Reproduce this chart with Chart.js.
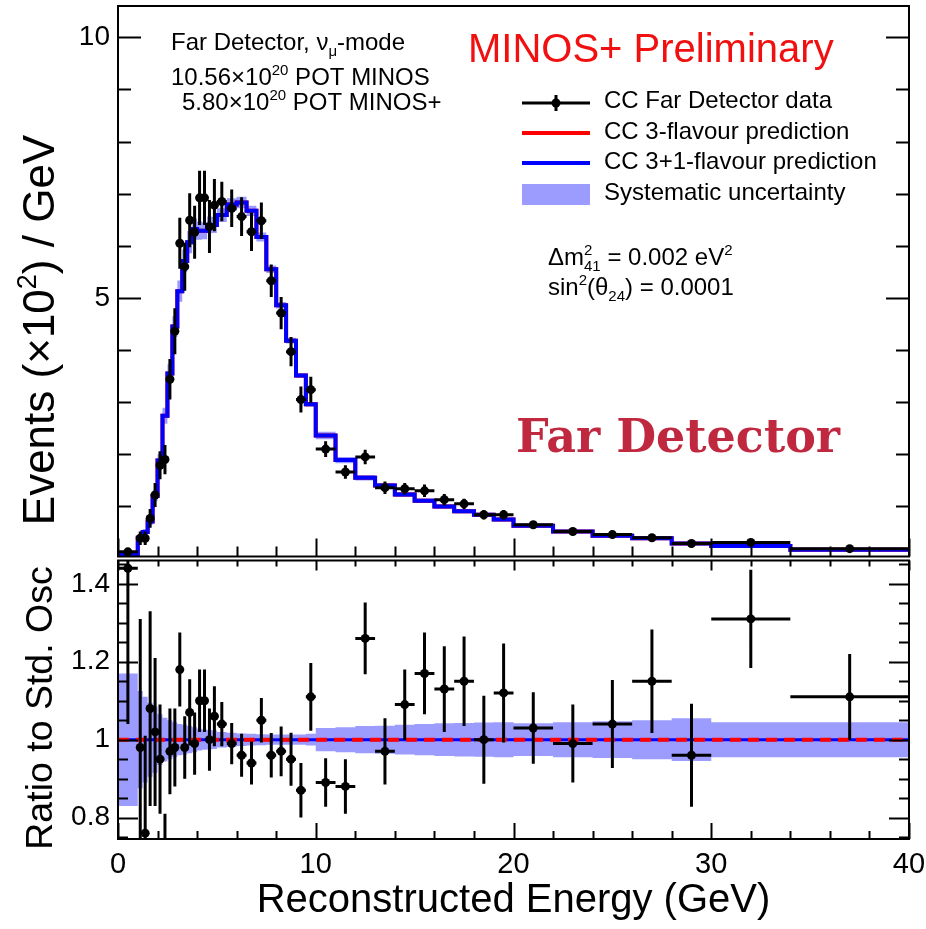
<!DOCTYPE html>
<html><head><meta charset="utf-8">
<script src="https://cdn.jsdelivr.net/npm/chart.js@4.4.1/dist/chart.umd.min.js"></script>
<style>
html,body{margin:0;padding:0;background:#fff;}
#wrap{position:relative;width:926px;height:929px;overflow:hidden;background:#fff;}
#c1{position:absolute;left:0;top:0;}
#c2{position:absolute;left:0;top:556px;}
</style></head><body>
<div id="wrap"><canvas id="c1" width="926" height="561"></canvas><canvas id="c2" width="926" height="373"></canvas></div>
<script>
// ---------------- data ----------------
const binEdges = [0,1,1.25,1.5,1.75,2,2.25,2.5,2.75,3,3.25,3.5,3.75,4,4.25,4.5,4.75,5,
  5.5,6,6.5,7,7.5,8,8.5,9,9.5,10,11,12,13,14,15,16,17,18,19,20,22,24,26,28,30,34,40];
// Events (x10^2) / GeV, far detector data
const dataEvents = [0.13,0.39,0.39,0.77,1.22,1.79,1.90,3.44,4.36,6.05,5.60,6.49,6.26,6.92,6.92,6.37,6.78,
  6.85,6.72,6.56,6.27,6.48,5.33,4.71,3.97,3.05,3.24,
  2.10,1.66,1.95,1.36,1.34,1.30,1.13,1.05,0.84,0.84,
  0.65,0.52,0.46,0.40,0.29,0.31,0.19];
const dataErr = [0.04,0.13,0.13,0.18,0.23,0.27,0.28,0.39,0.44,0.49,0.46,0.52,0.51,0.52,0.52,0.51,0.50,
  0.38,0.36,0.37,0.37,0.35,0.31,0.31,0.28,0.25,0.25,
  0.15,0.13,0.14,0.12,0.11,0.12,0.11,0.10,0.09,0.09,
  0.06,0.05,0.05,0.05,0.04,0.03,0.02];
const pred3Flavour = [0.09,0.40,0.51,0.71,1.20,1.88,2.74,3.55,4.45,5.13,5.71,6.07,6.32,6.29,6.29,6.40,6.40,
  6.59,6.79,6.83,6.67,6.17,5.55,4.86,4.18,3.51,2.96,
  2.36,1.89,1.55,1.40,1.23,1.11,1.00,0.91,0.84,0.75,
  0.63,0.52,0.44,0.39,0.29,0.24,0.17];
const pred31Flavour = [0.09,0.40,0.51,0.71,1.20,1.88,2.74,3.55,4.45,5.13,5.71,6.07,6.32,6.29,6.29,6.40,6.40,
  6.59,6.79,6.83,6.67,6.17,5.55,4.86,4.18,3.51,2.96,
  2.36,1.89,1.55,1.40,1.23,1.11,1.00,0.91,0.84,0.75,
  0.63,0.52,0.44,0.39,0.29,0.24,0.17];
// relative systematic uncertainty
const sysFrac = [0.17,0.125,0.11,0.095,0.085,0.065,0.056,0.05,0.045,0.04,0.038,0.035,0.032,0.028,0.026,0.025,0.024,
  0.02,0.018,0.016,0.015,0.014,0.013,0.013,0.013,0.013,0.015,
  0.03,0.032,0.035,0.036,0.038,0.04,0.042,0.043,0.044,0.045,
  0.042,0.045,0.047,0.05,0.055,0.045,0.045];
// ratio of data to standard oscillation (3-flavour)
const ratioData = [1.44,0.98,0.76,1.08,1.02,0.95,0.69,0.97,0.98,1.18,0.98,1.07,0.99,1.10,1.10,1.00,1.06,
  1.04,0.99,0.96,0.94,1.05,0.96,0.97,0.95,0.87,1.11,
  0.89,0.88,1.26,0.97,1.09,1.17,1.13,1.15,1.00,1.12,
  1.03,0.99,1.04,1.15,0.96,1.31,1.11];
const ratioErr = [0.40,0.33,0.25,0.25,0.19,0.14,0.12,0.11,0.10,0.095,0.08,0.085,0.08,0.08,0.08,0.08,0.077,
  0.057,0.053,0.055,0.055,0.057,0.057,0.064,0.068,0.07,0.087,
  0.062,0.07,0.092,0.085,0.09,0.105,0.11,0.115,0.113,0.127,
  0.092,0.10,0.113,0.133,0.132,0.126,0.11];
const xTickLabels = [0,10,20,30,40];
const yTopTickLabels = [5,10];
const yRatioTickLabels = [0.8,1,1.2,1.4];

// ---------------- helpers ----------------
const FONT = "'Liberation Sans', Arial, Helvetica, sans-serif";
const BAND = '#9c9cff';
function stepPts(vals){const p=[];vals.forEach((v,i)=>{p.push({x:binEdges[i],y:v});p.push({x:binEdges[i+1],y:v});});return p;}
function centersOf(vals){return vals.map((v,i)=>({x:(binEdges[i]+binEdges[i+1])/2,y:v}));}
function vErrPts(vals,errs){const p=[];vals.forEach((v,i)=>{const c=(binEdges[i]+binEdges[i+1])/2;p.push({x:c,y:v-errs[i]});p.push({x:c,y:v+errs[i]});p.push({x:c,y:null});});return p;}
function hErrPts(vals){const p=[];vals.forEach((v,i)=>{p.push({x:binEdges[i],y:v});p.push({x:binEdges[i+1],y:v});p.push({x:binEdges[i+1],y:null});});return p;}
function lineDs(data,color,width,order,extra){return Object.assign({type:'line',data,borderColor:color,borderWidth:width,pointRadius:0,tension:0,spanGaps:false,fill:false,order},extra||{});}

function richWidth(ctx,parts,size){
  let w=0;
  for(const p of parts){
    if(p.stack){ctx.font=Math.round(size*0.62)+'px '+FONT;w+=Math.max(ctx.measureText(p.stack[0]).width,ctx.measureText(p.stack[1]).width);}
    else{ctx.font=(p.s?Math.round(size*0.62):size)+'px '+FONT;w+=ctx.measureText(p.t).width;}
  }
  return w;
}
function drawRich(ctx,x,y,parts,size,color){
  ctx.fillStyle=color;ctx.textAlign='left';ctx.textBaseline='alphabetic';
  let cx=x;const ss=Math.round(size*0.62);
  for(const p of parts){
    if(p.stack){
      ctx.font=ss+'px '+FONT;
      ctx.fillText(p.stack[0],cx,y-size*0.40);
      ctx.fillText(p.stack[1],cx,y+size*0.25);
      cx+=Math.max(ctx.measureText(p.stack[0]).width,ctx.measureText(p.stack[1]).width);
    } else if(p.s){
      ctx.font=ss+'px '+FONT;
      ctx.fillText(p.t,cx,p.s==='sup'?y-size*0.40:y+size*0.25);
      cx+=ctx.measureText(p.t).width;
    } else {
      ctx.font=size+'px '+FONT;ctx.fillText(p.t,cx,y);cx+=ctx.measureText(p.t).width;
    }
  }
}
function drawRotTitle(ctx,cx,cy,parts,size){
  ctx.save();ctx.translate(cx,cy);ctx.rotate(-Math.PI/2);
  const w=richWidth(ctx,parts,size);
  drawRich(ctx,-w/2,size*0.36,parts,size,'#000');
  ctx.restore();
}

// frame + ROOT style inward ticks drawn from the chart's own scales
const rootFrame = {
  id:'rootFrame',
  afterDatasetsDraw(chart,args,o){
    const ctx=chart.ctx,a=chart.chartArea,xs=chart.scales.x,ys=chart.scales.y;
    ctx.save();ctx.strokeStyle='#000';ctx.lineWidth=2;
    ctx.beginPath();
    for(let v=o.yMin;v<=o.yMax+1e-9;v+=o.yStep){
      const py=Math.round(ys.getPixelForValue(v))+0.5;
      if(py<a.top-0.5||py>a.bottom+0.5)continue;
      const major=o.yMajor.some(m=>Math.abs(m-v)<1e-6);
      const L=major?o.yMajLen:o.yMinLen;
      ctx.moveTo(a.left,py);ctx.lineTo(a.left+L,py);
      ctx.moveTo(a.right,py);ctx.lineTo(a.right-L,py);
    }
    for(let v=0;v<=40+1e-9;v+=2){
      const px=Math.round(xs.getPixelForValue(v))+0.5;
      const major=v%10===0;
      const L=major?o.xMajLen:o.xMinLen;
      ctx.moveTo(px,a.bottom);ctx.lineTo(px,a.bottom-L);
      const Lt=major?o.xTopMaj:o.xTopMin;
      if(Lt>0){ctx.moveTo(px,a.top);ctx.lineTo(px,a.top+Lt);}
    }
    ctx.stroke();
    ctx.lineWidth=2;ctx.strokeRect(a.left,a.top,a.right-a.left,a.bottom-a.top);
    ctx.restore();
  }
};

// text annotations of the top pad
const topText = {
  id:'topText',
  afterDraw(chart){
    const ctx=chart.ctx;
    drawRich(ctx,171,50,[{t:'Far Detector, \u03bd'},{t:'\u03bc',s:'sub'},{t:'-mode'}],24,'#000');
    drawRich(ctx,171,85,[{t:'10.56\u00d710'},{t:'20',s:'sup'},{t:' POT MINOS'}],24,'#000');
    drawRich(ctx,182,110,[{t:'5.80\u00d710'},{t:'20',s:'sup'},{t:' POT MINOS+'}],24,'#000');
    ctx.font='40px '+FONT;ctx.fillStyle='#f01010';ctx.textAlign='left';ctx.textBaseline='alphabetic';
    ctx.fillText('MINOS+ Preliminary',468,62);
    // legend
    ctx.save();ctx.lineCap='butt';
    ctx.strokeStyle='#000';ctx.lineWidth=3;
    ctx.beginPath();ctx.moveTo(522,103);ctx.lineTo(590,103);ctx.moveTo(556,95);ctx.lineTo(556,111);ctx.stroke();
    ctx.fillStyle='#000';ctx.beginPath();ctx.arc(556,103,4.5,0,Math.PI*2);ctx.fill();
    ctx.strokeStyle='#ff0000';ctx.lineWidth=4;ctx.beginPath();ctx.moveTo(522,133);ctx.lineTo(590,133);ctx.stroke();
    ctx.strokeStyle='#0000ff';ctx.beginPath();ctx.moveTo(522,163);ctx.lineTo(590,163);ctx.stroke();
    ctx.fillStyle=BAND;ctx.fillRect(522,184,68,21);
    ctx.restore();
    const lt=[['CC Far Detector data',108],['CC 3-flavour prediction',139],['CC 3+1-flavour prediction',169],['Systematic uncertainty',200]];
    for(const [t,y] of lt) drawRich(ctx,604,y,[{t}],24,'#000');
    drawRich(ctx,548,265,[{t:'\u0394m'},{stack:['2','41']},{t:' = 0.002 eV'},{t:'2',s:'sup'}],24,'#000');
    drawRich(ctx,548,295,[{t:'sin'},{t:'2',s:'sup'},{t:'(\u03b8'},{t:'24',s:'sub'},{t:') = 0.0001'}],24,'#000');
    ctx.font="bold 46px 'DejaVu Serif', 'Liberation Serif', serif";ctx.fillStyle='#c0283f';
    ctx.textAlign='left';ctx.textBaseline='alphabetic';
    ctx.fillText('Far Detector',516,452);
    drawRotTitle(ctx,38,330,[{t:'Events (\u00d710'},{t:'2',s:'sup'},{t:') / GeV'}],44);
  }
};
const bottomText = {
  id:'bottomText',
  afterDraw(chart){
    drawRotTitle(chart.ctx,38,152,[{t:'Ratio to Std. Osc'}],37.5);
  }
};

const zeroPad = s=>{s.paddingTop=0;s.paddingBottom=0;s.paddingLeft=0;s.paddingRight=0;};
const baseY = (min,max,labels)=>({
  type:'linear',min,max,
  afterFit:s=>{s.width=118;zeroPad(s);},
  afterBuildTicks:s=>{s.ticks=labels.map(v=>({value:v}));},
  grid:{display:false,drawTicks:false},border:{display:false},
  ticks:{font:{family:FONT,size:28},color:'#000',padding:8,callback:v=>String(v)}
});

// ---------------- top pad ----------------
const bandUpTop = pred31Flavour.map((v,i)=>v*(1+sysFrac[i]));
const bandLoTop = pred31Flavour.map((v,i)=>v*(1-sysFrac[i]));
new Chart(document.getElementById('c1'),{
  type:'line',
  data:{datasets:[
    lineDs(stepPts(bandUpTop),'rgba(0,0,0,0)',0,9),
    lineDs(stepPts(bandLoTop),'rgba(0,0,0,0)',0,8,{fill:'-1',backgroundColor:BAND}),
    lineDs(stepPts(pred3Flavour),'#ff0000',4,7),
    lineDs(stepPts(pred31Flavour),'#0000ff',4,6),
    lineDs(vErrPts(dataEvents,dataErr),'#000',3,3),
    lineDs(hErrPts(dataEvents),'#000',3,2),
    {type:'scatter',data:centersOf(dataEvents),pointRadius:4.5,pointBackgroundColor:'#000',pointBorderWidth:0,showLine:false,order:1}
  ]},
  options:{
    responsive:false,animation:false,events:[],
    layout:{padding:{top:6,right:17,left:0,bottom:0}},
    plugins:{legend:{display:false},tooltip:{enabled:false},
      rootFrame:{yMin:0,yMax:10,yStep:1,yMajor:yTopTickLabels,yMajLen:23,yMinLen:13,xMajLen:18,xMinLen:10,xTopMaj:0,xTopMin:0}},
    scales:{
      x:{type:'linear',min:0,max:40,afterFit:s=>{s.height=1;zeroPad(s);},ticks:{display:false},grid:{display:false,drawTicks:false},border:{display:false}},
      y:baseY(0.04,10.6,yTopTickLabels)
    }
  },
  plugins:[rootFrame,topText]
});

// ---------------- ratio pad ----------------
const ratio3 = pred3Flavour.map((v,i)=>v/pred3Flavour[i]);
const ratio31 = pred31Flavour.map((v,i)=>v/pred3Flavour[i]);
new Chart(document.getElementById('c2'),{
  type:'line',
  data:{datasets:[
    lineDs(stepPts(ratio3.map((v,i)=>v+sysFrac[i])),'rgba(0,0,0,0)',0,9),
    lineDs(stepPts(ratio3.map((v,i)=>v-sysFrac[i])),'rgba(0,0,0,0)',0,8,{fill:'-1',backgroundColor:BAND}),
    lineDs(stepPts(ratio31),'#0000ff',3,7),
    lineDs(stepPts(ratio3),'#ff0000',4,6,{borderDash:[11,7]}),
    lineDs(vErrPts(ratioData,ratioErr),'#000',3,3),
    lineDs(hErrPts(ratioData),'#000',3,2),
    {type:'scatter',data:centersOf(ratioData),pointRadius:4.5,pointBackgroundColor:'#000',pointBorderWidth:0,showLine:false,order:1}
  ]},
  options:{
    responsive:false,animation:false,events:[],
    layout:{padding:{top:4,right:17,left:0,bottom:0}},
    plugins:{legend:{display:false},tooltip:{enabled:false},
      rootFrame:{yMin:0.75,yMax:1.45,yStep:0.05,yMajor:yRatioTickLabels,yMajLen:20,yMinLen:10,xMajLen:16,xMinLen:8,xTopMaj:10,xTopMin:6}},
    scales:{
      x:{type:'linear',min:0,max:40,
        afterFit:s=>{s.height=90;zeroPad(s);},
        afterBuildTicks:s=>{s.ticks=xTickLabels.map(v=>({value:v}));},
        grid:{display:false,drawTicks:false},border:{display:false},
        ticks:{font:{family:FONT,size:29},color:'#000',padding:9,autoSkip:false,maxRotation:0,callback:v=>String(v)},
        title:{display:true,text:'Reconstructed Energy (GeV)',font:{family:FONT,size:40,lineHeight:1},color:'#000',padding:{top:0,bottom:8}}
      },
      y:baseY(0.745,1.46,yRatioTickLabels)
    }
  },
  plugins:[rootFrame,bottomText]
});
</script>
</body></html>
